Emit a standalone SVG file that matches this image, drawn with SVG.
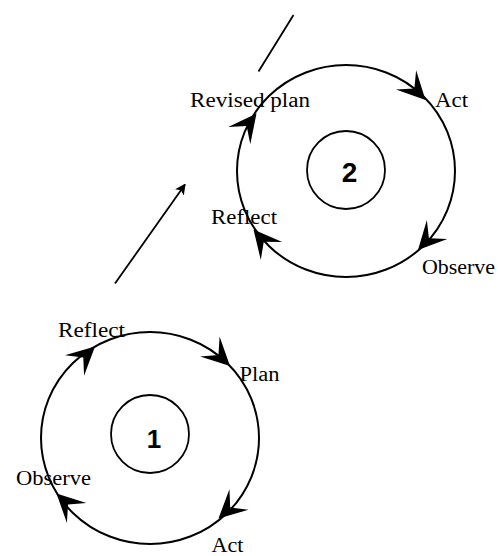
<svg xmlns="http://www.w3.org/2000/svg" xmlns:xlink="http://www.w3.org/1999/xlink" width="498" height="556" viewBox="0 0 498 556">
  <style>
    .ring { fill: none; stroke: #000; stroke-width: 2; }
    .hub { fill: none; stroke: #000; stroke-width: 1.8; }
    .label { font-family: "Liberation Serif", "Times New Roman", serif; font-size: 20px; fill: #000; }
    .num { font-family: "Liberation Sans", Arial, sans-serif; font-weight: bold; fill: #000; text-anchor: middle; }
    .link { fill: none; stroke: #000; stroke-width: 1.8; }
  </style>
  <defs>
    <!-- swept dart arrowhead, tip at origin, pointing along +x -->
    <path id="dart" d="M0,0 L-28,-14 L-16,0 L-28,14 Z" fill="#000"/>
    <marker id="tip" viewBox="0 0 10 10" refX="9" refY="5" markerWidth="6" markerHeight="6" orient="auto" markerUnits="strokeWidth">
      <path d="M0,0 L10,5 L0,10 L2.5,5 Z" fill="#000"/>
    </marker>
  </defs>

  <rect width="498" height="556" fill="#fff"/>

  <!-- first cycle: plan, act, observe, reflect -->
  <g id="cycle1">
    <ellipse class="ring" cx="150" cy="438" rx="109" ry="106"/>
    <circle class="hub" cx="150" cy="434" r="39"/>
    <text class="num" x="154" y="448" font-size="26">1</text>
    <use xlink:href="#dart" transform="translate(230,366) rotate(44)"/>
    <use xlink:href="#dart" transform="translate(218.5,518.5) rotate(137)"/>
    <use xlink:href="#dart" transform="translate(56.5,493.5) rotate(224)"/>
    <use xlink:href="#dart" transform="translate(95,346.5) rotate(-43)"/>
    <text class="label" x="58" y="337" textLength="67" lengthAdjust="spacingAndGlyphs">Reflect</text>
    <text class="label" x="239.5" y="381" textLength="40" lengthAdjust="spacingAndGlyphs">Plan</text>
    <text class="label" x="16" y="485" textLength="75" lengthAdjust="spacingAndGlyphs">Observe</text>
    <text class="label" x="211.5" y="552" textLength="32" lengthAdjust="spacingAndGlyphs">Act</text>
  </g>

  <!-- second cycle: revised plan, act, observe, reflect -->
  <g id="cycle2">
    <ellipse class="ring" cx="346" cy="171" rx="109" ry="106"/>
    <circle class="hub" cx="346" cy="170" r="39"/>
    <text class="num" x="349.5" y="182" font-size="28">2</text>
    <use xlink:href="#dart" transform="translate(425.5,100) rotate(46)"/>
    <use xlink:href="#dart" transform="translate(418,250) rotate(133)"/>
    <use xlink:href="#dart" transform="translate(253.5,229.5) rotate(230)"/>
    <use xlink:href="#dart" transform="translate(256.5,113.5) rotate(-52)"/>
    <text class="label" x="190" y="107" textLength="120" lengthAdjust="spacingAndGlyphs">Revised plan</text>
    <text class="label" x="435" y="107" textLength="33" lengthAdjust="spacingAndGlyphs">Act</text>
    <text class="label" x="211" y="224" textLength="66" lengthAdjust="spacingAndGlyphs">Reflect</text>
    <text class="label" x="422" y="274" textLength="73" lengthAdjust="spacingAndGlyphs">Observe</text>
  </g>

  <!-- connectors between the cycles -->
  <g id="connectors">
    <line class="link" x1="115" y1="283.5" x2="185" y2="184.5" marker-end="url(#tip)"/>
    <line class="link" x1="293.5" y1="15" x2="258.5" y2="71.5"/>
  </g>
</svg>
